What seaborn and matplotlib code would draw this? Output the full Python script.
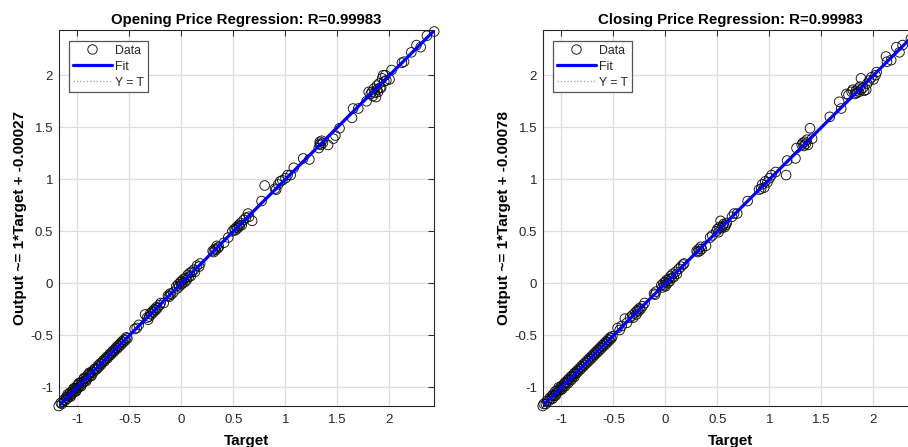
import matplotlib
matplotlib.use("Agg")
import matplotlib.pyplot as plt
import numpy as np
import pandas as pd
import seaborn as sns
from matplotlib.lines import Line2D

sns.set_theme(style="white")
plt.rcParams["font.family"] = ["Liberation Sans", "DejaVu Sans"]

# Opening price: network targets vs. network outputs (normalised)
open_target = [
    -1.18, -1.16, -1.15, -1.13, -1.12, -1.11, -1.10, -1.095, -1.09, -1.08,
    -1.07, -1.065, -1.06, -1.05, -1.05, -1.04, -1.035, -1.03, -1.02, -1.015,
    -1.01, -1.00, -1.00, -0.99, -0.985, -0.98, -0.97, -0.965, -0.96, -0.95,
    -0.94, -0.935, -0.93, -0.92, -0.915, -0.91, -0.90, -0.89, -0.885, -0.88,
    -0.87, -0.865, -0.86, -0.85, -0.84, -0.83, -0.82, -0.81, -0.80, -0.79,
    -0.78, -0.77, -0.76, -0.75, -0.74, -0.73, -0.72, -0.71, -0.70, -0.69,
    -0.68, -0.67, -0.66, -0.65, -0.64, -0.63, -0.62, -0.61, -0.60, -0.59,
    -0.58, -0.57, -0.56, -0.55, -0.54, -0.53, -0.52,
    -0.45, -0.43, -0.41, -0.35, -0.33, -0.32, -0.31, -0.30, -0.29, -0.28,
    -0.27, -0.26, -0.25, -0.24, -0.23, -0.21, -0.20, -0.17, -0.13, -0.12,
    -0.11, -0.10, -0.08,
    -0.05, -0.04, -0.03, -0.02, -0.01, 0.00, 0.00, 0.01, 0.02, 0.03,
    0.04, 0.05, 0.06, 0.07, 0.08, 0.09, 0.10, 0.12, 0.13, 0.15,
    0.17, 0.18,
    0.30, 0.31, 0.32, 0.33, 0.34, 0.35, 0.36, 0.41, 0.45, 0.49,
    0.51, 0.52, 0.53, 0.54, 0.55, 0.56, 0.57, 0.58, 0.60, 0.62,
    0.64, 0.65, 0.68,
    0.77, 0.80, 0.90, 0.91, 0.93, 0.95, 0.97, 1.00, 1.02, 1.05,
    1.08, 1.17, 1.23,
    1.32, 1.33, 1.33, 1.34, 1.35, 1.36, 1.41, 1.46, 1.48, 1.52,
    1.64, 1.65, 1.70, 1.78, 1.80,
    1.82, 1.83, 1.84, 1.85, 1.86, 1.87, 1.88, 1.88, 1.89, 1.90,
    1.91, 1.92, 1.93, 1.94, 1.95, 1.96, 1.97, 2.00, 2.02, 2.12,
    2.14, 2.21, 2.26, 2.30, 2.36, 2.43,
]
open_output = [
    -1.18, -1.15, -1.16, -1.12, -1.13, -1.10, -1.11, -1.07, -1.08, -1.09,
    -1.05, -1.09, -1.07, -1.04, -1.06, -1.02, -1.01, -1.04, -1.01, -1.04,
    -1.03, -0.98, -1.01, -1.00, -0.96, -0.96, -0.98, -0.99, -0.95, -0.96,
    -0.92, -0.91, -0.94, -0.91, -0.94, -0.92, -0.88, -0.90, -0.86, -0.87,
    -0.88, -0.89, -0.85, -0.86, -0.83, -0.82, -0.83, -0.82, -0.79, -0.80,
    -0.77, -0.78, -0.76, -0.74, -0.75, -0.73, -0.71, -0.72, -0.70, -0.68,
    -0.69, -0.67, -0.65, -0.66, -0.64, -0.62, -0.63, -0.60, -0.61, -0.58,
    -0.59, -0.56, -0.57, -0.54, -0.55, -0.52, -0.53,
    -0.44, -0.43, -0.40, -0.30, -0.33, -0.35, -0.32, -0.29, -0.30, -0.27,
    -0.28, -0.25, -0.26, -0.23, -0.24, -0.21, -0.19, -0.19, -0.12, -0.13,
    -0.10, -0.11, -0.09,
    -0.03, -0.05, -0.01, -0.03, 0.01, -0.01, 0.02, 0.00, 0.04, 0.01,
    0.05, 0.03, 0.08, 0.06, 0.10, 0.07, 0.11, 0.13, 0.11, 0.17,
    0.16, 0.19,
    0.31, 0.30, 0.33, 0.32, 0.36, 0.34, 0.35, 0.39, 0.44, 0.50,
    0.52, 0.51, 0.54, 0.53, 0.56, 0.55, 0.58, 0.56, 0.61, 0.63,
    0.67, 0.64, 0.60,
    0.79, 0.94, 0.91, 0.90, 0.95, 0.98, 0.99, 1.01, 1.04, 1.04,
    1.11, 1.20, 1.19,
    1.30, 1.36, 1.34, 1.33, 1.37, 1.35, 1.33, 1.39, 1.42, 1.49,
    1.59, 1.68, 1.68, 1.75, 1.84,
    1.82, 1.84, 1.80, 1.87, 1.83, 1.79, 1.86, 1.90, 1.84, 1.92,
    1.88, 1.88, 1.97, 2.00, 1.94, 2.00, 1.95, 1.96, 2.05, 2.12,
    2.13, 2.22, 2.29, 2.27, 2.38, 2.42,
]

# Closing price: network targets vs. network outputs (normalised)
close_target = [
    -1.18, -1.17, -1.15, -1.14, -1.12, -1.11, -1.10, -1.09, -1.085, -1.08,
    -1.07, -1.06, -1.055, -1.05, -1.04, -1.03, -1.025, -1.02, -1.01, -1.00,
    -0.995, -0.99, -0.98, -0.97, -0.965, -0.96, -0.95, -0.94, -0.935, -0.93,
    -0.92, -0.91, -0.905, -0.90, -0.89, -0.88, -0.875, -0.87, -0.86, -0.85,
    -0.84, -0.83, -0.82, -0.81, -0.80, -0.79, -0.78, -0.77, -0.76, -0.75,
    -0.74, -0.73, -0.72, -0.71, -0.70, -0.69, -0.68, -0.67, -0.66, -0.65,
    -0.64, -0.63, -0.62, -0.61, -0.60, -0.59, -0.58, -0.57, -0.56, -0.55,
    -0.54, -0.53, -0.52, -0.51,
    -0.46, -0.44, -0.42, -0.39, -0.37, -0.34, -0.32, -0.31, -0.29, -0.28,
    -0.27, -0.26, -0.25, -0.24, -0.22, -0.20, -0.11, -0.10, -0.09,
    -0.04, -0.03, -0.02, -0.01, 0.00, 0.00, 0.01, 0.02, 0.03, 0.04,
    0.05, 0.06, 0.07, 0.08, 0.10, 0.11, 0.13, 0.15, 0.17, 0.18,
    0.30, 0.31, 0.32, 0.33, 0.34, 0.35, 0.39, 0.43, 0.45, 0.49,
    0.50, 0.51, 0.52, 0.53, 0.54, 0.55, 0.56, 0.57, 0.58, 0.59,
    0.64, 0.66, 0.69,
    0.79, 0.90, 0.92, 0.93, 0.95, 0.96, 0.98, 1.00, 1.02, 1.06,
    1.16, 1.17, 1.25,
    1.26, 1.31, 1.32, 1.33, 1.34, 1.35, 1.36, 1.37, 1.39, 1.41,
    1.58, 1.67, 1.69, 1.74, 1.76,
    1.79, 1.80, 1.82, 1.83, 1.84, 1.85, 1.86, 1.87, 1.88, 1.88,
    1.90, 1.91, 1.93, 1.94, 1.96, 1.98, 2.00, 2.02, 2.03, 2.12,
    2.13, 2.17, 2.22, 2.25, 2.28, 2.36, 2.43,
]
close_output = [
    -1.18, -1.16, -1.16, -1.13, -1.13, -1.10, -1.11, -1.08, -1.11, -1.07,
    -1.08, -1.04, -1.08, -1.06, -1.03, -1.04, -1.00, -1.03, -1.00, -1.01,
    -1.02, -0.98, -0.99, -0.96, -0.99, -0.95, -0.96, -0.93, -0.96, -0.92,
    -0.93, -0.90, -0.93, -0.89, -0.90, -0.87, -0.90, -0.86, -0.87, -0.84,
    -0.85, -0.82, -0.83, -0.80, -0.81, -0.78, -0.79, -0.76, -0.77, -0.74,
    -0.75, -0.72, -0.73, -0.70, -0.71, -0.68, -0.69, -0.66, -0.67, -0.64,
    -0.65, -0.62, -0.63, -0.60, -0.61, -0.58, -0.59, -0.56, -0.57, -0.54,
    -0.55, -0.52, -0.53, -0.51,
    -0.43, -0.45, -0.41, -0.34, -0.38, -0.33, -0.31, -0.33, -0.28, -0.30,
    -0.26, -0.27, -0.24, -0.25, -0.22, -0.19, -0.10, -0.11, -0.08,
    -0.02, -0.04, 0.00, -0.02, 0.01, -0.03, 0.03, 0.00, 0.04, 0.02,
    0.07, 0.05, 0.09, 0.06, 0.11, 0.09, 0.14, 0.16, 0.18, 0.19,
    0.31, 0.30, 0.33, 0.31, 0.35, 0.33, 0.36, 0.44, 0.46, 0.50,
    0.52, 0.49, 0.54, 0.60, 0.53, 0.55, 0.57, 0.54, 0.56, 0.58,
    0.64, 0.67, 0.67,
    0.79, 0.90, 0.91, 0.95, 0.92, 0.98, 0.97, 1.01, 1.04, 1.07,
    1.04, 1.18, 1.20,
    1.30, 1.33, 1.35, 1.32, 1.36, 1.34, 1.38, 1.33, 1.49, 1.39,
    1.60, 1.745, 1.68, 1.82, 1.81,
    1.84, 1.86, 1.82, 1.85, 1.83, 1.87, 1.84, 1.89, 1.86, 1.97,
    1.88, 1.85, 1.86, 1.92, 1.95, 1.98, 1.96, 2.00, 2.03, 2.18,
    2.13, 2.145, 2.27, 2.22, 2.29, 2.35, 2.42,
]

panel_titles = ["Opening Price Regression: R=0.99983",
                "Closing Price Regression: R=0.99983"]
fit_slopes = [1, 1]
fit_intercepts = [-0.00027, -0.00078]
fit_labels = ["Output ~= 1*Target + -0.00027", "Output ~= 1*Target + -0.00078"]
axis_limits = [(-1.18, 2.43), (-1.18, 2.43)]
tick_values = [-1, -0.5, 0, 0.5, 1, 1.5, 2]
tick_labels = ["-1", "-0.5", "0", "0.5", "1", "1.5", "2"]

panels = [(open_target, open_output), (close_target, close_output)]

W, H = 908, 447
fig = plt.figure(figsize=(W / 100, H / 100), dpi=100)
ax_left_px = [58.7, 542.7]
ax_bottom_px = 41.0
ax_size_px = 375.5

dark = "#262626"

for i, (t, y) in enumerate(panels):
    ax = fig.add_axes([ax_left_px[i] / W, ax_bottom_px / H,
                       ax_size_px / W, ax_size_px / H])
    lo, hi = axis_limits[i]
    df = pd.DataFrame({"Target": t, "Output": y})

    sns.scatterplot(data=df, x="Target", y="Output", ax=ax, marker="o", s=48,
                    color="black", facecolor="none", edgecolor="#111111",
                    linewidth=0.65, zorder=3, legend=False, clip_on=False)

    # identity line sits underneath the fitted line
    ident_df = pd.DataFrame({"Target": [lo, hi], "Output": [lo, hi]})
    sns.lineplot(data=ident_df, x="Target", y="Output", ax=ax, color="#9a9a9a",
                 linestyle=":", linewidth=0.9, zorder=3.5)
    m, b = fit_slopes[i], fit_intercepts[i]
    fit_df = pd.DataFrame({"Target": [lo, hi], "Output": [m * lo + b, m * hi + b]})
    sns.lineplot(data=fit_df, x="Target", y="Output", ax=ax, color="#0000ff",
                 linewidth=2.3, zorder=4)

    ax.set_xlim(lo, hi)
    ax.set_ylim(lo, hi)
    ax.set_xticks(tick_values)
    ax.set_xticklabels(tick_labels)
    ax.set_yticks(tick_values)
    ax.set_yticklabels(tick_labels)
    ax.grid(True, color="#dedede", linewidth=0.9)
    ax.set_axisbelow(True)
    ax.tick_params(direction="in", top=True, right=True, length=4, width=0.7,
                   color=dark, labelcolor=dark, labelsize=9.5)
    ax.tick_params(axis="x", pad=6)
    ax.tick_params(axis="y", pad=4)
    for sp in ax.spines.values():
        sp.set_color(dark)
        sp.set_linewidth(0.8)

    ax.set_title(panel_titles[i], fontsize=10.8, fontweight="bold",
                 color="black", pad=5)
    ax.set_xlabel("Target", fontsize=11, fontweight="bold", color="black",
                  labelpad=5.5)
    ax.set_ylabel(fit_labels[i], fontsize=11, fontweight="bold", color="black",
                  labelpad=2)

    handles = [
        Line2D([], [], linestyle="none", marker="o", markersize=6.8,
               markerfacecolor="none", markeredgecolor="#111111",
               markeredgewidth=0.65),
        Line2D([], [], color="#0000ff", linewidth=2.3),
        Line2D([], [], color="#9a9a9a", linestyle=":", linewidth=0.9),
    ]
    leg = ax.legend(handles, ["Data", "Fit", "Y = T"], loc="upper left",
                    bbox_to_anchor=(10 / ax_size_px, 1 - 10.3 / ax_size_px),
                    borderaxespad=0, fontsize=8.8, handlelength=3.2,
                    handletextpad=0.25, labelspacing=0.32, borderpad=0.32,
                    fancybox=False, framealpha=1, edgecolor="#555555")
    leg.get_frame().set_linewidth(0.9)
    for txt in leg.get_texts():
        txt.set_color(dark)

fig.savefig("out.png", dpi=100)
